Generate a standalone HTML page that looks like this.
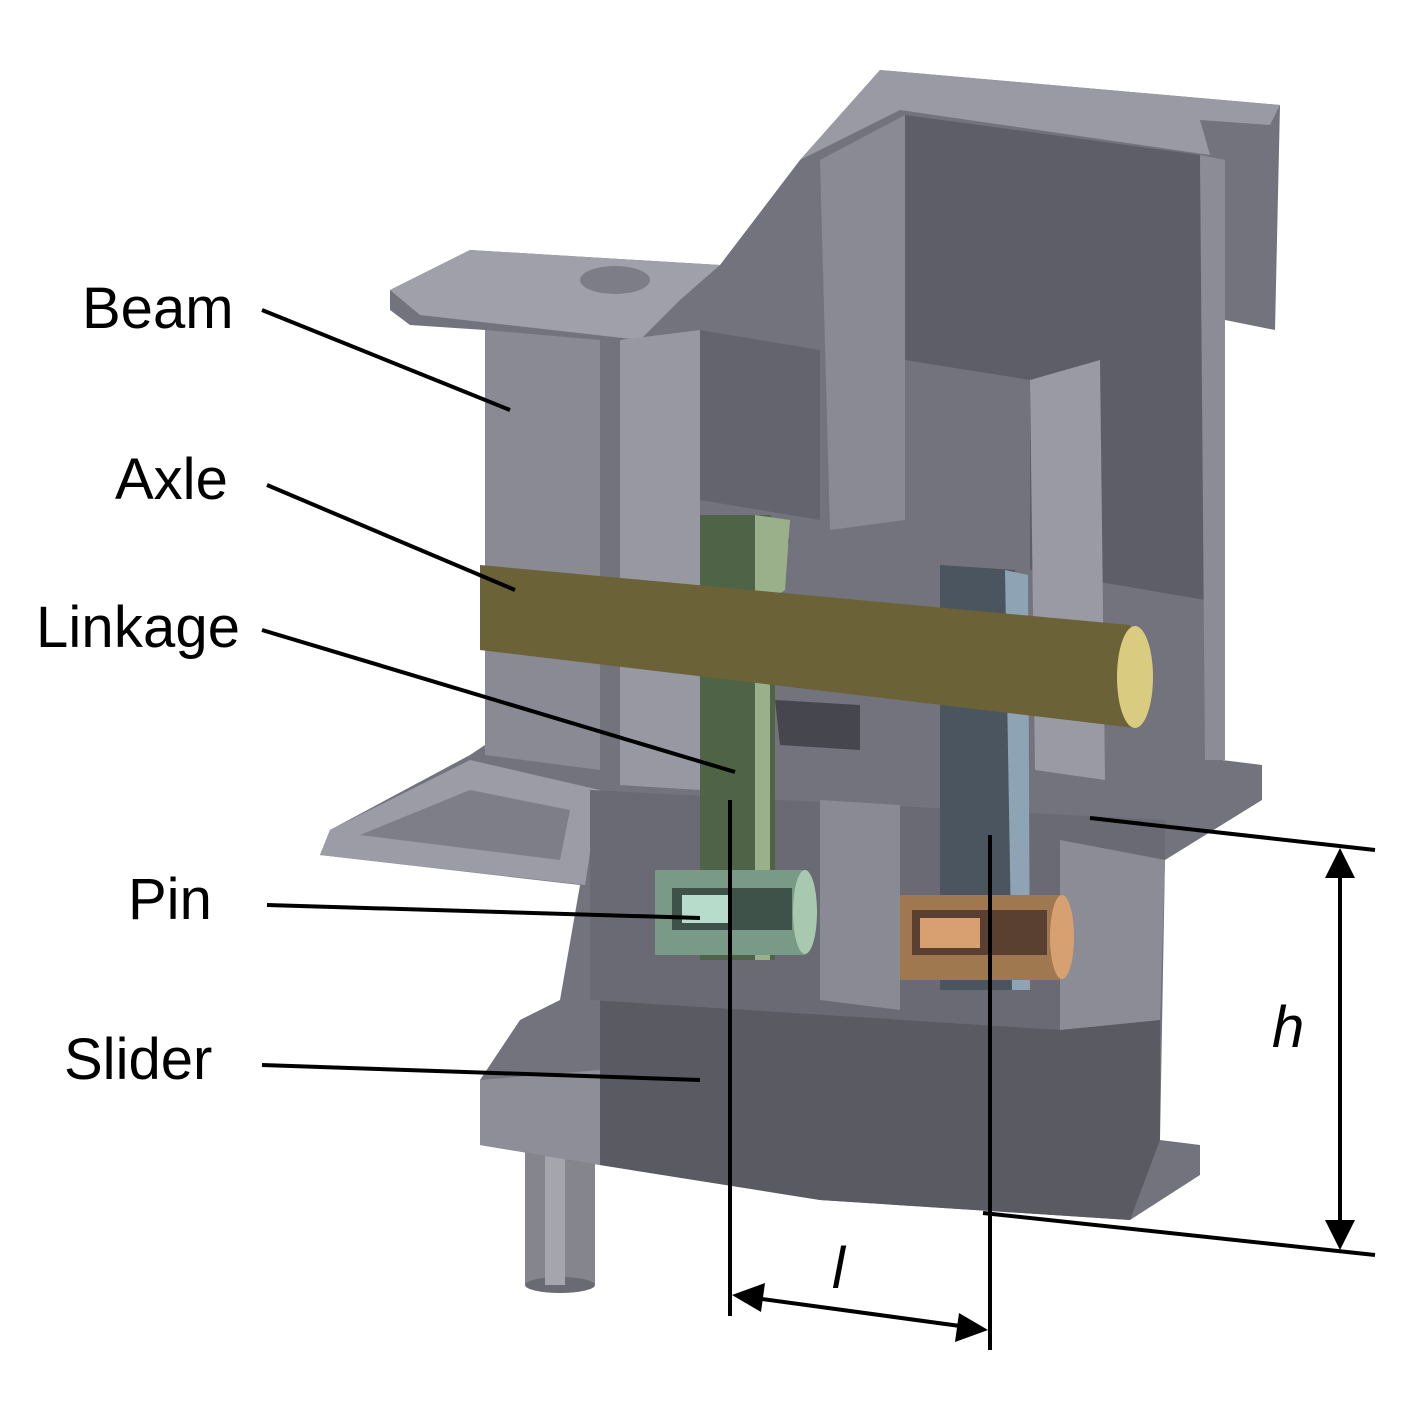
<!DOCTYPE html>
<html><head><meta charset="utf-8"><style>
html,body{margin:0;padding:0;background:#fff;}
svg{display:block}
text{font-family:"Liberation Sans",sans-serif;}
</style></head><body>
<svg width="1425" height="1404" viewBox="0 0 1425 1404" xmlns="http://www.w3.org/2000/svg">
<!-- cylinder bottom -->
<rect x="525" y="1140" width="70" height="145" fill="#85858d"/>
<ellipse cx="560" cy="1285" rx="35" ry="8" fill="#6a6a72"/>
<rect x="545" y="1140" width="20" height="145" fill="#a5a5ad"/>
<!-- main silhouette -->
<polygon points="390,290 470,250 720,265 800,160 880,70 1280,105 1275,330 1225,320 1222,760 1262,765 1262,800 1165,860 1160,1140 1200,1145 1200,1175 1130,1220 820,1200 600,1165 480,1145 480,1080 520,1020 560,1000 580,885 320,855 330,830 470,755 485,745 485,330 410,325 390,310" fill="#73737d"/>
<polygon points="880,70 1280,105 1270,125 1200,120 1210,155 900,110 800,160" fill="#9a9aa4"/>
<polygon points="390,290 470,250 720,265 680,300 640,340 420,315" fill="#a0a0aa"/>
<ellipse cx="615" cy="280" rx="35" ry="14" fill="#7d7d87"/>
<polygon points="905,115 1200,155 1205,600 1030,570 1030,380 905,360" fill="#5e5e68"/>
<polygon points="1200,155 1225,160 1225,760 1205,760" fill="#8c8c96"/>
<polygon points="820,160 905,115 905,520 830,530" fill="#8a8a94"/>
<polygon points="1030,380 1100,360 1105,780 1035,770" fill="#999aa3"/>
<polygon points="485,330 600,340 600,770 485,755" fill="#8a8a94"/>
<polygon points="620,340 700,330 700,790 620,785" fill="#9898a2"/>
<polygon points="700,330 820,350 820,520 700,500" fill="#64646e"/>
<polygon points="320,855 330,830 470,760 600,790 585,885" fill="#9c9ca6"/>
<polygon points="360,835 470,790 570,810 560,860" fill="#7e7e88"/>
<polygon points="600,990 1160,1020 1160,1140 1130,1220 820,1200 600,1165" fill="#5a5a63"/>
<polygon points="480,1080 600,1070 600,1165 480,1145" fill="#8e8e98"/>
<polygon points="590,790 1165,820 1165,860 1060,840 1060,1030 590,1000" fill="#6a6a74"/>
<polygon points="820,800 900,805 900,1010 820,1000" fill="#8a8a94"/>
<polygon points="1060,840 1165,860 1160,1020 1060,1030" fill="#8c8c96"/>
<polygon points="700,515 770,515 790,540 775,585 775,960 700,960" fill="#4f6446"/>
<polygon points="755,515 790,520 785,590 770,600 770,960 755,960" fill="#9ab08a"/>
<polygon points="940,565 1015,570 1025,990 940,990" fill="#4a5560"/>
<polygon points="1005,570 1028,575 1030,990 1012,990" fill="#8ea4b4"/>
<polygon points="480,565 1130,625 1150,680 1135,728 480,650" fill="#6b6238"/>
<ellipse cx="1135" cy="677" rx="18" ry="51" fill="#d9cc80"/>
<polygon points="775,700 860,705 860,750 780,745" fill="#46464e"/>
<rect x="655" y="870" width="150" height="85" fill="#7a9a88"/>
<ellipse cx="805" cy="912" rx="12" ry="42" fill="#a8c8b0"/>
<rect x="672" y="888" width="120" height="42" fill="#3e524a"/>
<rect x="682" y="895" width="50" height="28" fill="#b8dccc"/>
<rect x="900" y="895" width="160" height="85" fill="#a07850"/>
<ellipse cx="1062" cy="937" rx="12" ry="42" fill="#d7a070"/>
<rect x="912" y="910" width="135" height="45" fill="#5a4030"/>
<rect x="920" y="918" width="60" height="30" fill="#d8a070"/>
<g font-size="58" fill="#000">
<text x="82" y="328">Beam</text>
<text x="115" y="499">Axle</text>
<text x="36" y="647" textLength="204">Linkage</text>
<text x="128" y="919">Pin</text>
<text x="64" y="1079">Slider</text>
<text x="832" y="1288" font-style="italic">l</text>
<text x="1272" y="1047" font-style="italic">h</text>
</g>
<g stroke="#000" stroke-width="4" fill="none">
<line x1="262" y1="310" x2="510" y2="410"/>
<line x1="267" y1="485" x2="515" y2="590"/>
<line x1="262" y1="630" x2="735" y2="772"/>
<line x1="267" y1="905" x2="700" y2="918"/>
<line x1="262" y1="1065" x2="700" y2="1080"/>
<line x1="730" y1="800" x2="730" y2="1316"/>
<line x1="990" y1="835" x2="990" y2="1350"/>
<line x1="1090" y1="818" x2="1375" y2="850"/>
<line x1="983" y1="1213" x2="1375" y2="1255"/>
<line x1="755" y1="1298" x2="960" y2="1326"/>
<line x1="1340" y1="875" x2="1340" y2="1225"/>
</g>
<polygon points="732,1295 765,1283 761,1312" fill="#000"/>
<polygon points="988,1330 955,1342 959,1313" fill="#000"/>
<polygon points="1340,848 1325,878 1355,878" fill="#000"/>
<polygon points="1340,1250 1325,1220 1355,1220" fill="#000"/>
</svg>
</body></html>
